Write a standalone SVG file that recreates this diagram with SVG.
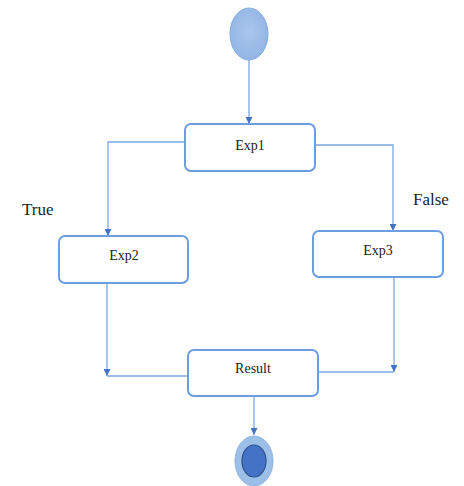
<svg xmlns="http://www.w3.org/2000/svg" width="464" height="486" viewBox="0 0 464 486">
  <defs>
    <marker id="arrow" viewBox="0 0 10 10" refX="10" refY="5" markerWidth="7" markerHeight="7" orient="auto" markerUnits="userSpaceOnUse">
      <path d="M0,0 L10,5 L0,10 Z" fill="#4472c4"/>
    </marker>
    <radialGradient id="startFill" cx="50%" cy="45%" r="60%">
      <stop offset="0" stop-color="#a9c6ec"/>
      <stop offset="1" stop-color="#90b4e4"/>
    </radialGradient>
  </defs>
  <style>
    .box { fill: #ffffff; stroke: #6c9ee0; stroke-width: 2; }
    .label { font-family: "Liberation Serif", "Times New Roman", serif; font-size: 14px; fill: #222222; text-anchor: middle; }
    .branch { font-family: "Liberation Serif", "Times New Roman", serif; font-size: 17px; fill: #222222; }
    .wire { fill: none; stroke: #7ba6e2; stroke-width: 1.3; }
  </style>
  <rect width="464" height="486" fill="#ffffff"/>

  <!-- connectors -->
  <g id="connectors">
    <path class="wire" d="M249,60 L249,124" marker-end="url(#arrow)"/>
    <path class="wire" d="M185,142 L108,142 L108,236" marker-end="url(#arrow)"/>
    <path class="wire" d="M315,145 L393,145 L393,231" marker-end="url(#arrow)"/>
    <path class="wire" d="M107,283 L107,376" marker-end="url(#arrow)"/>
    <path class="wire" d="M107,376 L188,376"/>
    <path class="wire" d="M394,277 L394,372" marker-end="url(#arrow)"/>
    <path class="wire" d="M318,372 L394,372"/>
    <path class="wire" d="M254,396 L254,435" marker-end="url(#arrow)"/>
  </g>

  <!-- initial node -->
  <g id="start">
    <ellipse cx="249" cy="34" rx="19" ry="26" fill="url(#startFill)" stroke="#86addf" stroke-width="1"/>
  </g>

  <g id="exp1">
    <rect class="box" x="185" y="124" width="130" height="47" rx="6"/>
    <text class="label" x="250" y="150">Exp1</text>
  </g>

  <g id="exp2">
    <rect class="box" x="59" y="236" width="129" height="47" rx="6"/>
    <text class="label" x="124" y="260">Exp2</text>
  </g>

  <g id="exp3">
    <rect class="box" x="313" y="231" width="130" height="46" rx="6"/>
    <text class="label" x="378" y="255">Exp3</text>
  </g>

  <g id="result">
    <rect class="box" x="188" y="350" width="130" height="46" rx="6"/>
    <text class="label" x="253" y="373">Result</text>
  </g>

  <!-- final node -->
  <g id="end">
    <ellipse cx="254" cy="461" rx="19" ry="25" fill="#9cbfe8" stroke="#8fb3e2" stroke-width="1"/>
    <ellipse cx="254" cy="461" rx="12" ry="16" fill="#4472c4" stroke="#2f528f" stroke-width="1.2"/>
  </g>

  <g id="branch-labels">
    <text class="branch" x="22" y="215">True</text>
    <text class="branch" x="413" y="205">False</text>
  </g>
</svg>
